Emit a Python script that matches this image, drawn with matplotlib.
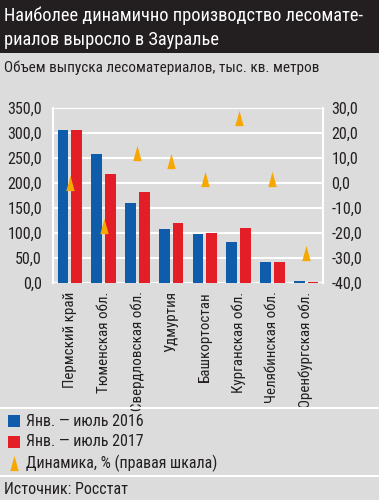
import numpy as np
import matplotlib
matplotlib.use("Agg")
import matplotlib.pyplot as plt
from matplotlib.patches import Rectangle
from matplotlib.lines import Line2D

plt.rcParams['font.family'] = ['Roboto Condensed', 'DejaVu Sans']
plt.rcParams['font.stretch'] = 'condensed'

regions = ["Пермский край", "Тюменская обл.", "Свердловская обл.", "Удмуртия",
           "Башкортостан", "Курганская обл.", "Челябинская обл.", "Оренбургская обл."]
vol_2016 = [306, 258, 161, 109, 98, 83, 43, 4.5]
vol_2017 = [306, 218, 183, 121, 101, 111, 43, 2]
dynamics = [0, -17, 12, 9, 1.5, 26, 1.5, -28]

left_ticks = np.arange(0, 351, 50)
right_ticks = np.arange(-40, 31, 10)

BG = "#dcdcdc"
BLUE = "#0f5cab"
RED = "#e31e26"
ORANGE = "#f6a800"
TEXT = "#231f20"

W, H = 379, 500
fig = plt.figure(figsize=(W / 100, H / 100), dpi=100, facecolor=BG)


def fx(px):
    return px / W


def fy(py):
    return 1 - py / H


# title band
fig.patches.append(Rectangle((0, fy(53)), 1, 53 / H, transform=fig.transFigure,
                             facecolor="#231f20", edgecolor="none", zorder=0))
fig.text(fx(4), fy(16), "Наиболее динамично производство лесомате-", color="white",
         fontsize=13.2, va="center", ha="left")
fig.text(fx(4), fy(40), "риалов выросло в Зауралье", color="white",
         fontsize=13.2, va="center", ha="left")
fig.text(fx(4), fy(68), "Объем выпуска лесоматериалов, тыс. кв. метров", color=TEXT,
         fontsize=11, va="center", ha="left")

# chart
ax = fig.add_axes([fx(53), fy(283), fx(270), 175 / H])
ax.set_facecolor(BG)
x = np.arange(len(regions))
bw = 0.32
off = 0.205
ax.bar(x - off, vol_2016, bw, color=BLUE, zorder=3)
ax.bar(x + off, vol_2017, bw, color=RED, zorder=3)
ax.set_xlim(-0.5, len(regions) - 0.5)
ax.set_ylim(0, 350)
ax.set_yticks(left_ticks)
ax.set_yticklabels([f"{v:.1f}".replace(".", ",") for v in left_ticks])
ax.yaxis.grid(True, color="white", linewidth=1.5, zorder=0)
ax.set_axisbelow(True)
for s in ["top", "bottom"]:
    ax.spines[s].set_visible(False)
for s in ["left", "right"]:
    ax.spines[s].set_color("white")
    ax.spines[s].set_linewidth(1.5)
ax.tick_params(axis="y", length=0, labelsize=11.5, colors=TEXT, pad=8)
ax.set_xticks(x)
ax.set_xticklabels(regions, rotation=90, fontsize=10.8, color=TEXT)
ax.tick_params(axis="x", length=0, pad=6)

tri = [(-0.55, -1), (0.55, -1), (0, 1), (-0.55, -1)]
ax2 = ax.twinx()
ax2.set_ylim(-40, 30)
ax2.set_yticks(right_ticks)
ax2.set_yticklabels([f"{v:.1f}".replace(".", ",") for v in right_ticks])
ax2.tick_params(axis="y", length=0, labelsize=11.5, colors=TEXT, pad=6)
for s in ax2.spines.values():
    s.set_visible(False)
ax2.plot(x, dynamics, linestyle="none", marker=tri, markersize=11,
         color=ORANGE, markeredgewidth=0, zorder=4)

# separators
fig.add_artist(Line2D([0, 1], [fy(408), fy(408)], color="white", linewidth=1.5))
fig.add_artist(Line2D([0, 1], [fy(476), fy(476)], color="white", linewidth=1.5))

# legend
legend_items = [("Янв. — июль 2016", BLUE, "s"), ("Янв. — июль 2017", RED, "s"),
                ("Динамика, % (правая шкала)", ORANGE, tri)]
for i, (lab, c, m) in enumerate(legend_items):
    yy = fy(421 + i * 21)
    fig.add_artist(Line2D([fx(14)], [yy], marker=m, color=c, markersize=9 if m == "s" else 11,
                          markeredgewidth=0, linestyle="none"))
    fig.text(fx(26), yy, lab, fontsize=11.5, color=TEXT, va="center", ha="left")

fig.text(fx(4), fy(490), "Источник: Росстат", fontsize=11.5, color=TEXT, va="center", ha="left")

fig.savefig("out.png", dpi=100, facecolor=BG)
